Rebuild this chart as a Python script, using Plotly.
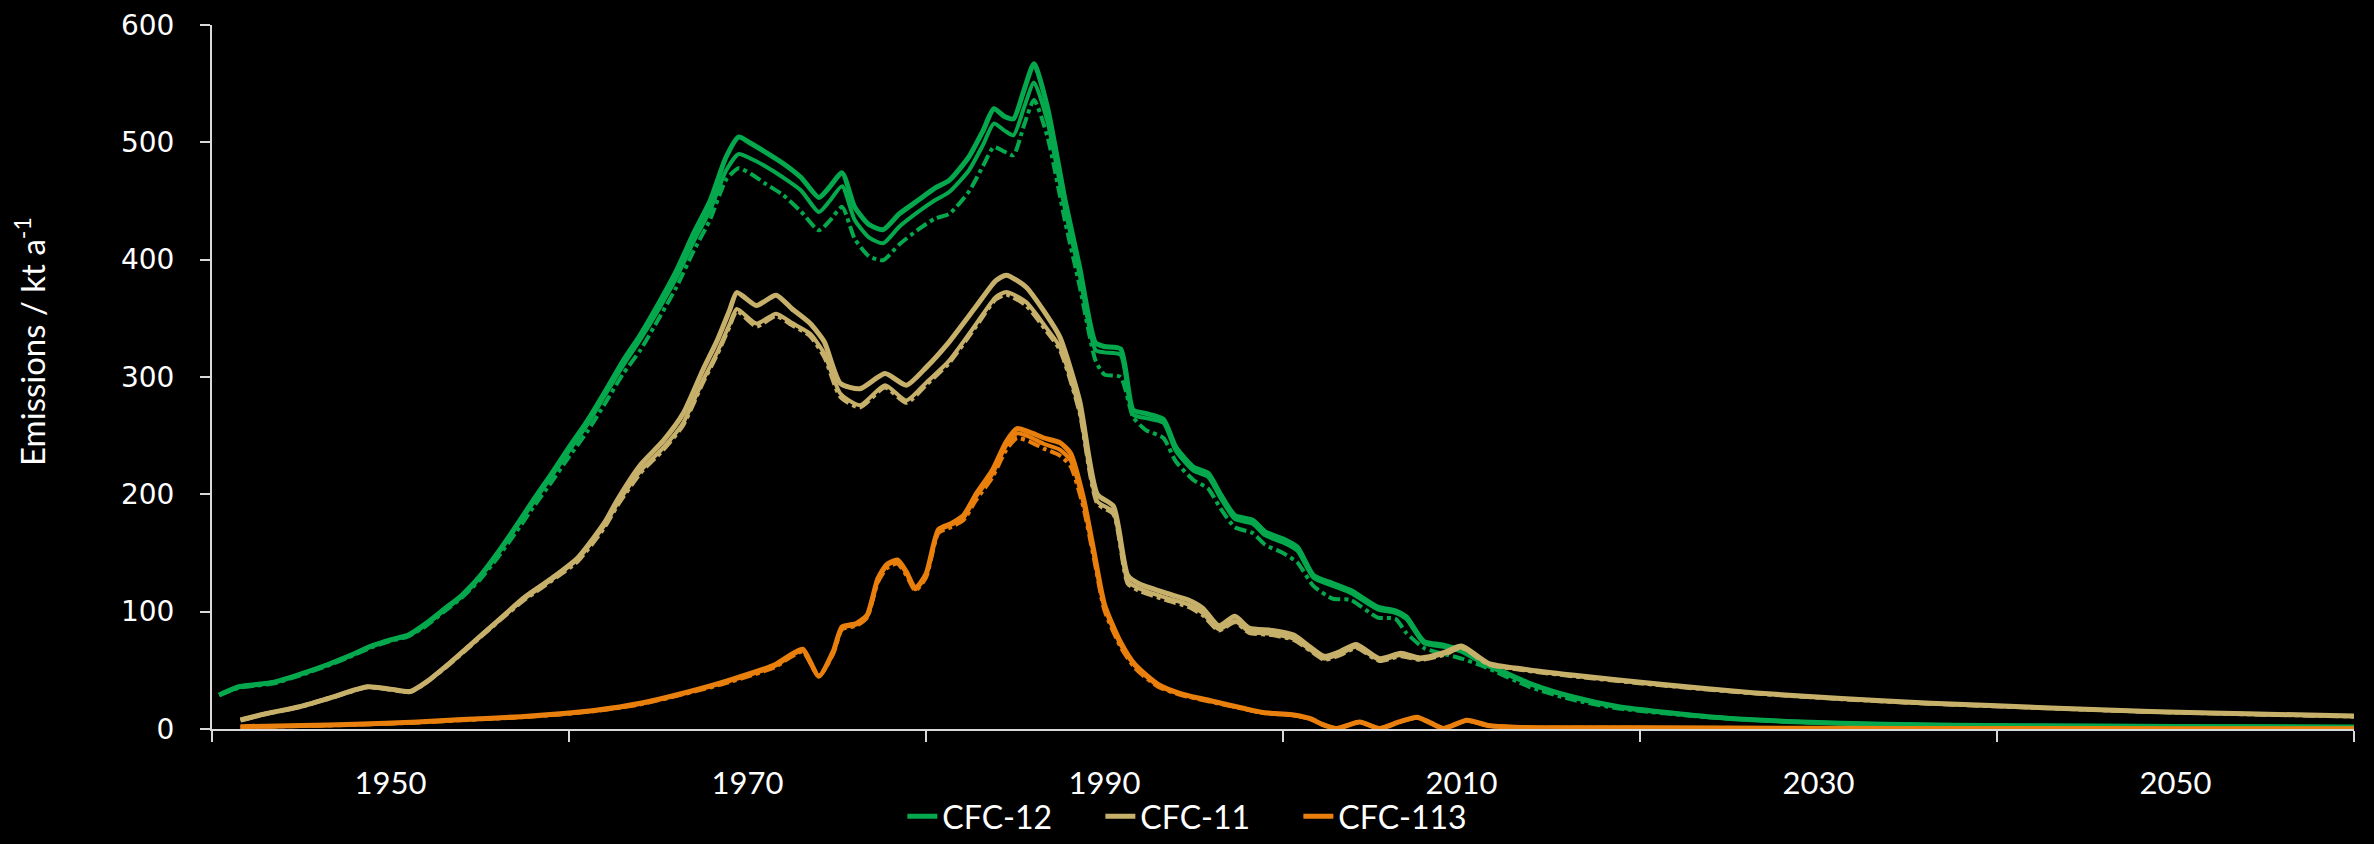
import plotly.graph_objects as go

# ---------------- data ----------------
cfc12_years = [1940.4, 1941.5, 1942.5, 1943.5, 1945, 1946.5, 1947.5, 1949, 1950, 1951, 1952, 1953, 1954,
               1955, 1956, 1957, 1958, 1959, 1960, 1961, 1962, 1963, 1964, 1965, 1966, 1967, 1967.9,
               1968.8, 1969.5, 1970.2, 1971, 1972, 1973, 1974, 1974.6, 1975.3, 1976, 1976.8, 1977.6,
               1978.5, 1979.5, 1980.5, 1981.3, 1982.4, 1983.2, 1983.8, 1984.4, 1984.9, 1985.5, 1986.05,
               1986.8, 1987.8, 1988.6, 1989.5, 1990, 1990.9, 1991.6, 1992.3, 1993.3, 1994, 1995, 1995.8,
               1996.5, 1997.3, 1998.3, 1999, 2000, 2000.8, 2001.7, 2002.8, 2003.8, 2005.3, 2006.3, 2006.9,
               2007.9, 2009, 2010, 2011.3, 2013.8, 2016.2, 2018.8, 2023.8, 2028.7, 2033.7, 2041.3, 2050, 2060]
cfc12_high = [29, 36, 38, 40, 47, 55, 61, 71, 76, 80, 90, 102, 114,
              130, 150, 172, 195, 217, 240, 262, 287, 313, 336, 362, 390, 423, 450,
              487.5, 504.5, 499, 491.7, 482, 470, 453, 462, 474, 445, 430, 425.6,
              439, 450, 461, 467.6, 487.5, 510, 528.6, 522, 520, 545, 567,
              530, 450, 394, 329, 326, 324, 272, 269, 264, 240, 223, 218,
              200, 182, 178, 168, 162, 155, 131, 124, 118, 104, 100.8, 95.7,
              74.4, 71.5, 67, 56, 39, 27.5, 19, 10.5, 6.2, 4, 2.8, 2.2, 1.8]
cfc12_mid = [29, 36, 38, 40, 47, 55, 61, 71, 76, 80, 89, 101, 113,
             129, 149, 171, 193, 215, 237, 259, 284, 309, 332, 357, 384, 416, 442,
             476, 490, 486, 479.6, 470, 459, 440.6, 450, 462.5, 434, 419, 414,
             428, 440, 450.6, 457.7, 476, 498, 516, 510, 506, 530, 551,
             518, 442, 388, 323, 321, 319, 268, 265, 261, 237, 220, 215,
             197, 179, 175, 165, 159, 152, 129, 122, 116, 102, 99, 94,
             73, 70, 66, 55, 38.5, 27, 18.8, 10.4, 6.1, 4, 2.8, 2.2, 1.8]
cfc12_low = [29, 35, 37, 39, 46, 54, 60, 70, 75, 79, 88, 100, 112,
             127, 146, 167, 189, 210, 232, 253, 277, 302, 323, 349, 376, 408, 434,
             468, 478, 473, 464.8, 455, 441, 425, 433, 445, 418, 403, 399.5,
             413, 425, 435, 439, 458, 480, 496, 492, 489, 515, 536,
             505, 432, 378, 314, 302, 300, 266, 255, 248, 228, 212, 205,
             188, 172, 167, 157, 150, 142, 122, 111, 110, 95, 94, 82,
             69, 64, 60, 53, 36, 25, 17.5, 10, 6, 3.9, 2.7, 2.1, 1.7]

cfc11_years = [1941.6, 1943, 1944.9, 1946.5, 1948.7, 1950, 1951.1, 1952, 1953.3, 1954.5, 1956, 1957.5,
               1959, 1960.5, 1962, 1962.7, 1964, 1965.3, 1966.4, 1967.5, 1968.3, 1969.0, 1969.4, 1970.5,
               1971.6, 1972.5, 1973.5, 1974.3, 1975.2, 1976.3, 1977.7, 1978.9, 1980, 1981.3, 1982.8,
               1983.9, 1984.5, 1985.6, 1986.7, 1987.5, 1988.6, 1989.6, 1990.5, 1991.3, 1991.9, 1993.4,
               1994.7, 1995.5, 1996.4, 1997.3, 1998.1, 1999.4, 2000.6, 2001.5, 2002.3, 2003.2, 2004.1,
               2005.4, 2006.6, 2007.7, 2009, 2010, 2011.5, 2013.5, 2016.2, 2021.3, 2026.3, 2031.3,
               2036.3, 2043, 2048.6, 2054, 2060]
cfc11_high = [7.7, 13, 19, 26, 36, 34, 32, 40, 56, 72, 92, 112,
              128, 146, 176, 195, 225, 246, 269, 306, 331, 357, 372, 361,
              369.7, 358, 345.8, 330, 294.6, 290, 303, 293, 308, 330, 360,
              382, 386.7, 376.7, 354, 334, 280, 200, 190, 131, 124, 116,
              110, 103, 88, 96, 86, 84, 80, 70, 62, 66, 72,
              60, 64.5, 60.5, 65, 70.7, 56, 51, 46, 38, 31, 26,
              22, 18, 15, 13, 11]
cfc11_mid = [7.7, 13, 19, 26, 36, 34, 32, 40, 56, 72, 92, 111,
             127, 145, 174, 192, 220, 240, 261, 297, 321, 345, 358, 345.5,
             354, 346, 337, 320, 286, 276, 293, 280, 295, 314, 345,
             368, 372.5, 364, 342.7, 325.6, 272, 194, 185, 126, 120, 112,
             106, 99, 85, 92, 83, 81, 77, 68, 60, 64, 70,
             59, 63, 59.5, 64, 69.5, 55.5, 50.5, 45.5, 37.5, 30.7, 25.7,
             21.8, 17.8, 14.8, 12.8, 10.9]
cfc11_low = [7.5, 12.8, 18.7, 25.6, 35.5, 33.5, 31.5, 39.5, 55, 71, 91, 110,
             126, 143, 172, 190, 218, 238, 259, 295, 319, 343, 356, 343,
             352, 344, 335, 317, 283, 274, 291, 278, 293, 312, 343,
             366, 370, 361, 340, 323, 270, 192, 183, 124, 118, 110,
             104, 97, 84, 91, 82, 80, 76, 67, 59, 63, 69,
             58, 62, 59, 63, 69, 55, 50, 45, 37, 30.4, 25.4,
             21.5, 17.6, 14.6, 12.6, 10.7]

cfc113_years = [1941.6, 1945, 1948, 1951.5, 1954, 1957.3, 1959.5, 1961.5, 1964, 1966.5, 1969, 1971.5,
                1972.5, 1973.1, 1974.0, 1974.8, 1975.3, 1976.1, 1976.7, 1977.3, 1977.8, 1978.4, 1978.9,
                1979.4, 1980, 1980.7, 1981.4, 1982.1, 1982.8, 1983.7, 1984.5, 1985.1, 1985.8, 1986.6,
                1987.5, 1988.1, 1988.8, 1989.4, 1990, 1990.9, 1991.7, 1993, 1994.3, 1996, 1997.7, 1998.9,
                1999.8, 2000.6, 2001.5, 2002.2, 2003, 2004.3, 2005.4, 2006.5, 2007.5, 2008.3, 2009,
                2010.3, 2011.5, 2013, 2020, 2030, 2040, 2050, 2060]
cfc113_high = [2, 3, 4, 6, 8, 10.5, 13, 16, 22, 31, 41.7, 54.5,
               64, 68, 45, 66, 87, 90, 97, 128, 140, 144, 134,
               120, 132, 170, 175, 182, 200, 220, 245, 256, 253, 248,
               244, 235, 198, 152, 106, 74, 55, 38, 30, 24, 18, 14,
               13, 12, 9, 4, 0.5, 6, 0.5, 6, 10, 5, 0.5,
               7.5, 3, 1.5, 1, 0.6, 0.4, 0.3, 0.2]
cfc113_mid = [1.8, 2.8, 3.8, 5.8, 7.8, 10.2, 12.7, 15.7, 21.5, 30.5, 41, 53.5,
              63, 67, 45, 65, 86, 89, 96, 127, 139, 143, 133,
              119, 131, 169, 174, 180, 198, 217, 242, 252, 249, 243,
              238, 229, 194, 149, 104, 72, 54, 37, 29.5, 23.5, 17.7, 13.8,
              12.8, 11.8, 8.8, 3.9, 0.5, 5.9, 0.5, 5.9, 9.8, 4.9, 0.5,
              7.3, 2.9, 1.5, 1, 0.6, 0.4, 0.3, 0.2]
cfc113_low = [1.6, 2.6, 3.6, 5.5, 7.5, 10, 12.4, 15.3, 21, 30, 40, 52.5,
              62, 66, 45, 64, 85, 88, 95, 125, 137, 141, 131,
              118, 129, 167, 172, 178, 195, 214, 238, 248, 245, 239,
              233, 224, 190, 146, 101, 70, 52, 36, 29, 23, 17.4, 13.6,
              12.6, 11.6, 8.6, 3.8, 0.5, 5.8, 0.5, 5.8, 9.6, 4.8, 0.5,
              7.1, 2.8, 1.4, 1, 0.6, 0.4, 0.3, 0.2]

x_label_years = [1950, 1970, 1990, 2010, 2030, 2050]
x_mark_years = [1940, 1960, 1980, 2000, 2020, 2040, 2060]
y_ticks = [0, 100, 200, 300, 400, 500, 600]

# ---------------- styling ----------------
GREEN = "#05A84C"
TAN = "#C6B06A"
ORANGE = "#E97F0C"
AXIS = "#D9D9D9"
TEXT = "#FFFFFF"

species = [
    ("CFC-12", GREEN, cfc12_years, cfc12_high, cfc12_mid, cfc12_low),
    ("CFC-11", TAN, cfc11_years, cfc11_high, cfc11_mid, cfc11_low),
    ("CFC-113", ORANGE, cfc113_years, cfc113_high, cfc113_mid, cfc113_low),
]

fig = go.Figure()
for name, col, yrs, hi, mid, lo in species:
    fig.add_trace(go.Scatter(x=yrs, y=lo, mode="lines", showlegend=False, hoverinfo="skip",
                             line=dict(color=col, width=4, dash="dashdot", shape="spline", smoothing=0.6)))
    fig.add_trace(go.Scatter(x=yrs, y=mid, mode="lines", showlegend=False, hoverinfo="skip",
                             line=dict(color=col, width=4, shape="spline", smoothing=0.6)))
    fig.add_trace(go.Scatter(x=yrs, y=hi, mode="lines", name=name,
                             line=dict(color=col, width=5, shape="spline", smoothing=0.6)))

fig.update_layout(
    width=2374, height=844,
    paper_bgcolor="#000000", plot_bgcolor="#000000",
    margin=dict(l=212, r=20, t=25, b=115, autoexpand=False),
    font=dict(family="Lato", color=TEXT, size=31),
    showlegend=True,
    legend=dict(orientation="h", x=0.3223, xanchor="left", y=-0.1632, yanchor="bottom",
                font=dict(family="Lato", size=32, color=TEXT),
                entrywidth=153, entrywidthmode="pixels",
                bgcolor="rgba(0,0,0,0)", traceorder="normal"),
    xaxis=dict(range=[1940, 2060], showgrid=False, zeroline=False,
               showline=True, linecolor=AXIS, linewidth=2,
               tickmode="array", tickvals=x_label_years, ticktext=[str(v) for v in x_label_years],
               ticks="", ticklabelstandoff=26,
               tickfont=dict(family="Lato", size=31, color=TEXT),
               minor=dict(tickmode="array", tickvals=x_mark_years, ticks="outside",
                          ticklen=11, tickwidth=2, tickcolor=AXIS, showgrid=False)),
    yaxis=dict(range=[0, 600], showgrid=False, zeroline=False,
               showline=True, linecolor=AXIS, linewidth=2,
               tickmode="array", tickvals=y_ticks,
               ticks="outside", ticklen=10, tickwidth=2, tickcolor=AXIS,
               ticklabelstandoff=20,
               tickfont=dict(family="DejaVu Sans", size=28, color=TEXT)),
    annotations=[dict(text="Emissions / kt a<sup>-1</sup>", textangle=-90,
                      xref="paper", yref="paper", x=-0.085, y=0.551,
                      xanchor="center", yanchor="middle", showarrow=False,
                      font=dict(family="Lato", size=33, color=TEXT))],
)

fig.write_html("out.html")
